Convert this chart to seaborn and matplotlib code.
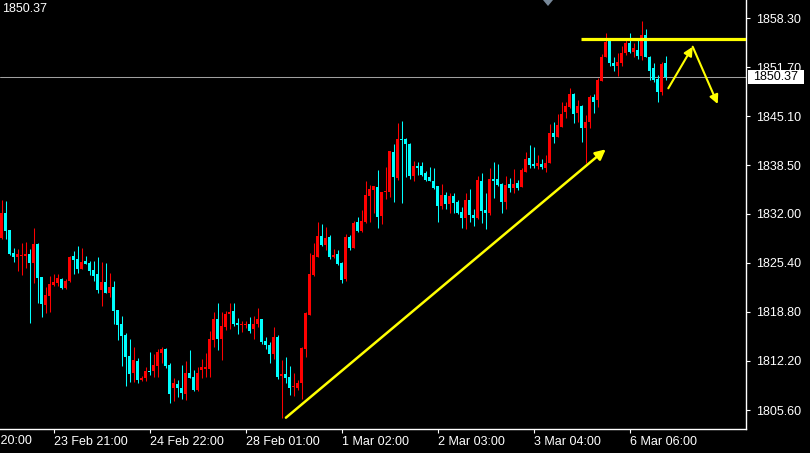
import numpy as np
import matplotlib
matplotlib.use("Agg")
import matplotlib.pyplot as plt
from matplotlib.patches import Rectangle, Polygon
import seaborn as sns

# hourly OHLC (bar 0 = left edge)
opens = [1828.78, 1832.14, 1829.81, 1826.72, 1826.18, 1826.36, 1826.36, 1826.58, 1825.42, 1827.93,
         1823.45, 1819.73, 1820.98, 1822.42, 1822.73, 1823.22, 1822.06, 1822.96, 1826.32, 1825.91,
         1824.57, 1825.64, 1825.37, 1824.43, 1823.90, 1821.75, 1822.82, 1821.39, 1822.15, 1819.06,
         1817.18, 1815.70, 1812.88, 1810.59, 1812.20, 1809.70, 1809.92, 1810.86, 1810.86, 1811.53,
         1813.28, 1813.82, 1811.67, 1808.54, 1809.11, 1808.53, 1807.81, 1810.59, 1810.05, 1808.35,
         1810.99, 1811.13, 1811.13, 1815.03, 1817.85, 1815.16, 1816.82, 1818.52, 1818.92, 1817.36,
         1817.09, 1817.00, 1817.22, 1816.55, 1817.22, 1817.85, 1814.89, 1814.35, 1813.14, 1815.43,
         1810.19, 1810.46, 1810.10, 1808.75, 1808.62, 1809.20, 1813.82, 1818.38, 1823.76, 1826.22,
         1829.00, 1827.79, 1828.91, 1826.13, 1826.58, 1825.42, 1823.18, 1828.91, 1827.34, 1830.93,
         1829.67, 1830.93, 1834.38, 1835.18, 1835.63, 1831.69, 1834.87, 1834.96, 1840.29, 1836.75,
         1842.04, 1842.04, 1841.36, 1837.11, 1838.45, 1838.45, 1837.42, 1836.97, 1836.44, 1835.72,
         1833.03, 1834.51, 1833.30, 1834.38, 1833.61, 1832.22, 1831.46, 1833.84, 1831.82, 1831.46,
         1836.39, 1832.50, 1832.05, 1836.66, 1836.66, 1835.99, 1833.62, 1835.99, 1835.50, 1836.08,
         1835.54, 1837.65, 1839.44, 1838.68, 1838.41, 1838.68, 1838.19, 1838.77, 1842.89, 1842.35,
         1843.70, 1845.71, 1846.38, 1848.04, 1845.49, 1846.47, 1843.47, 1844.37, 1847.64, 1847.28,
         1849.83, 1853.10, 1855.25, 1852.21, 1851.89, 1852.21, 1853.55, 1854.90, 1853.78, 1854.00,
         1853.24, 1856.02, 1853.10, 1851.54, 1850.06, 1848.40, 1852.21]
highs = [1833.84, 1833.71, 1829.81, 1827.35, 1827.26, 1828.02, 1828.20, 1827.21, 1830.03, 1828.11,
         1823.45, 1822.19, 1823.58, 1823.85, 1823.85, 1823.36, 1823.27, 1826.36, 1826.99, 1827.66,
         1827.35, 1826.32, 1825.60, 1825.64, 1826.14, 1825.55, 1825.37, 1824.03, 1822.96, 1819.06,
         1818.25, 1815.92, 1815.12, 1814.09, 1812.61, 1810.20, 1811.35, 1813.37, 1813.19, 1813.77,
         1814.13, 1813.99, 1811.98, 1809.92, 1809.65, 1811.67, 1812.20, 1813.68, 1810.95, 1811.35,
         1812.47, 1813.23, 1816.24, 1818.79, 1819.95, 1818.83, 1818.92, 1819.95, 1819.95, 1818.03,
         1817.62, 1817.62, 1818.12, 1818.25, 1819.33, 1817.85, 1815.47, 1814.80, 1816.77, 1815.70,
         1812.34, 1812.70, 1811.53, 1810.55, 1809.65, 1814.13, 1818.79, 1826.67, 1828.10, 1830.88,
         1830.61, 1830.25, 1829.13, 1827.21, 1827.12, 1825.55, 1829.27, 1829.13, 1831.02, 1831.55,
         1832.49, 1836.39, 1835.85, 1835.76, 1837.87, 1834.96, 1838.32, 1840.42, 1841.36, 1844.19,
         1844.46, 1842.22, 1841.45, 1839.13, 1838.99, 1838.90, 1837.78, 1838.32, 1838.09, 1835.72,
         1835.99, 1834.96, 1834.73, 1834.73, 1833.84, 1832.94, 1834.73, 1835.32, 1832.63, 1837.06,
         1837.51, 1834.74, 1838.10, 1838.99, 1838.68, 1836.17, 1837.07, 1836.75, 1838.01, 1836.53,
         1838.10, 1840.34, 1841.23, 1841.01, 1839.89, 1839.31, 1839.89, 1844.05, 1844.28, 1845.40,
         1847.06, 1847.06, 1848.85, 1848.27, 1847.28, 1846.61, 1845.26, 1847.95, 1848.04, 1850.19,
         1853.46, 1856.24, 1855.43, 1853.10, 1853.55, 1854.54, 1855.43, 1856.33, 1854.99, 1855.34,
         1857.90, 1856.78, 1853.19, 1852.30, 1850.64, 1852.43, 1853.19]
lows = [1828.56, 1828.65, 1826.45, 1825.55, 1824.34, 1823.76, 1824.75, 1817.36, 1822.64, 1820.04,
        1818.16, 1818.70, 1818.83, 1822.28, 1822.28, 1821.88, 1821.88, 1822.82, 1823.90, 1824.08,
        1824.57, 1825.24, 1823.76, 1823.00, 1821.39, 1819.60, 1821.34, 1820.85, 1817.18, 1815.03,
        1811.58, 1808.89, 1809.43, 1809.43, 1809.29, 1809.50, 1809.51, 1810.32, 1810.10, 1810.10,
        1811.89, 1811.31, 1806.60, 1806.83, 1807.37, 1807.05, 1806.96, 1809.92, 1808.17, 1808.17,
        1809.96, 1810.01, 1810.10, 1814.13, 1813.68, 1812.34, 1816.37, 1816.50, 1816.95, 1815.83,
        1816.15, 1816.59, 1816.01, 1815.12, 1816.82, 1814.49, 1813.77, 1811.98, 1812.52, 1809.78,
        1804.54, 1809.20, 1807.63, 1807.50, 1808.31, 1807.14, 1812.70, 1818.38, 1823.62, 1826.13,
        1827.66, 1827.12, 1825.86, 1826.00, 1825.10, 1822.73, 1822.95, 1827.12, 1827.34, 1829.54,
        1829.58, 1830.79, 1830.93, 1832.14, 1830.12, 1830.61, 1834.02, 1834.20, 1833.61, 1836.53,
        1833.39, 1836.97, 1836.62, 1836.44, 1837.20, 1837.06, 1836.44, 1836.44, 1835.32, 1830.93,
        1832.67, 1832.67, 1832.05, 1832.14, 1831.91, 1830.12, 1829.90, 1830.93, 1830.34, 1831.33,
        1830.70, 1829.94, 1831.82, 1834.06, 1835.72, 1832.14, 1832.68, 1834.96, 1834.83, 1835.18,
        1835.54, 1837.65, 1838.10, 1838.19, 1837.96, 1837.96, 1837.65, 1838.77, 1841.55, 1842.35,
        1843.70, 1844.82, 1846.16, 1844.14, 1844.37, 1841.68, 1838.77, 1843.56, 1845.49, 1846.29,
        1849.83, 1853.01, 1851.89, 1851.18, 1850.51, 1851.85, 1853.33, 1853.64, 1853.10, 1852.79,
        1852.66, 1853.01, 1849.97, 1849.74, 1847.06, 1847.95, 1849.97]
closes = [1832.14, 1829.72, 1826.58, 1826.18, 1826.58, 1826.50, 1826.63, 1825.42, 1827.93, 1823.40,
          1819.91, 1821.07, 1822.51, 1822.82, 1823.40, 1822.06, 1822.96, 1826.18, 1825.82, 1824.57,
          1825.51, 1825.24, 1824.34, 1823.67, 1821.75, 1822.82, 1821.34, 1822.15, 1818.92, 1817.09,
          1815.61, 1812.79, 1810.46, 1812.34, 1809.65, 1809.85, 1810.86, 1810.73, 1811.67, 1813.46,
          1813.82, 1811.53, 1807.81, 1809.25, 1808.57, 1807.86, 1810.59, 1809.92, 1808.26, 1810.59,
          1811.35, 1811.35, 1815.16, 1817.85, 1815.16, 1816.95, 1818.52, 1818.75, 1817.22, 1817.09,
          1817.22, 1817.22, 1816.28, 1817.22, 1817.85, 1814.76, 1814.35, 1813.14, 1815.43, 1810.10,
          1810.46, 1809.87, 1808.62, 1808.84, 1809.20, 1813.91, 1818.61, 1823.89, 1826.45, 1829.00,
          1827.79, 1828.78, 1826.13, 1826.45, 1825.24, 1823.09, 1828.91, 1827.34, 1830.79, 1829.67,
          1831.06, 1834.51, 1835.32, 1835.76, 1831.60, 1834.96, 1835.09, 1840.42, 1836.97, 1842.04,
          1841.90, 1841.32, 1837.11, 1838.41, 1838.18, 1837.20, 1836.53, 1836.44, 1835.41, 1833.03,
          1834.51, 1833.30, 1834.38, 1833.48, 1832.14, 1831.46, 1833.84, 1831.82, 1831.46, 1836.53,
          1832.36, 1832.14, 1836.66, 1836.39, 1835.86, 1833.62, 1835.86, 1835.50, 1835.99, 1835.50,
          1837.87, 1839.35, 1838.54, 1838.41, 1838.86, 1838.23, 1838.86, 1842.89, 1842.35, 1843.92,
          1845.40, 1846.47, 1848.04, 1845.35, 1846.47, 1843.56, 1844.37, 1847.64, 1847.06, 1849.97,
          1853.10, 1855.12, 1852.21, 1851.89, 1852.43, 1853.55, 1854.90, 1853.78, 1854.22, 1853.24,
          1856.02, 1853.10, 1851.18, 1849.97, 1848.40, 1852.12, 1850.33]

price_ticks = [1858.30, 1851.70, 1845.10, 1838.50, 1832.00, 1825.40, 1818.80, 1812.20, 1805.60]
date_ticks = [13, 37, 61, 85, 109, 133, 157]
date_labels = ["23 Feb 21:00", "24 Feb 22:00", "28 Feb 01:00", "1 Mar 02:00",
               "2 Mar 03:00", "3 Mar 04:00", "6 Mar 06:00"]
last_price = 1850.37

# hand-drawn yellow objects (bar index, price)
resistance_level = 1855.44
resistance_start = 144.9
trend_start = (71.1, 1804.58)
trend_end = (151.05, 1840.65)
zigzag_x = [166.7, 172.8, 179.05]
zigzag_y = [1848.85, 1854.44, 1846.74]

sns.set_theme(style="ticks", rc={
    "axes.facecolor": "black",
    "figure.facecolor": "black",
    "axes.edgecolor": "white",
    "xtick.color": "white",
    "ytick.color": "white",
})
plt.rcParams["font.family"] = ["Liberation Sans", "DejaVu Sans"]
plt.rcParams["font.size"] = 9

UP = "#ff0000"
DOWN = "#00ffff"
YEL = "#ffff00"

fig = plt.figure(figsize=(8.1, 4.53), dpi=100)
ax = fig.add_axes([0, 24 / 453, 746 / 810, 429 / 453])

x = np.arange(len(opens))
o = np.array(opens)
c = np.array(closes)
colors = [UP if cc >= oo else DOWN for oo, cc in zip(o, c)]

ax.vlines(x, lows, highs, colors=colors, linewidth=0.75, zorder=2)
body_low = np.minimum(o, c)
body_h = np.maximum(np.abs(c - o), 0.14)
ax.bar(x, body_h, bottom=body_low, width=0.75, color=colors, linewidth=0, zorder=3)

# current price line
ax.axhline(last_price, color="#a0a0a0", linewidth=0.75, zorder=1)

# yellow drawings
ax.plot([resistance_start, 190], [resistance_level, resistance_level], color=YEL,
        linewidth=2.3, solid_capstyle="butt", zorder=4)
ax.annotate("", xy=trend_end, xytext=trend_start,
            arrowprops=dict(arrowstyle="-|>", color=YEL, lw=1.8, mutation_scale=15,
                            shrinkA=0, shrinkB=0), zorder=4)
ax.annotate("", xy=(zigzag_x[1], zigzag_y[1]), xytext=(zigzag_x[0], zigzag_y[0]),
            arrowprops=dict(arrowstyle="-|>", color=YEL, lw=1.5, mutation_scale=13,
                            shrinkA=0, shrinkB=0), zorder=4)
ax.annotate("", xy=(zigzag_x[2], zigzag_y[2]), xytext=(zigzag_x[1], zigzag_y[1]),
            arrowprops=dict(arrowstyle="-|>", color=YEL, lw=1.5, mutation_scale=13,
                            shrinkA=0, shrinkB=0), zorder=4)

ax.set_xlim(-0.375, 186.125)
ax.set_ylim(1803.06, 1860.72)

for side in ["left", "top"]:
    ax.spines[side].set_visible(False)
ax.spines["right"].set_linewidth(1)
ax.spines["bottom"].set_linewidth(1)

ax.yaxis.tick_right()
ax.set_yticks(price_ticks)
ax.set_yticklabels([f"{p:.2f}" for p in price_ticks])
ax.set_xticks(date_ticks)
ax.set_xticklabels(date_labels, ha="left")
ax.tick_params(axis="both", direction="out", length=3, width=0.8, labelsize=9,
               labelcolor="white")
ax.tick_params(axis="y", pad=4)
ax.tick_params(axis="x", pad=2)

# partly hidden first date label
ax.annotate("22 Feb 20:00", xy=(-11, 0), xycoords=("data", "axes fraction"),
            xytext=(0, -4.2), textcoords="offset points", ha="left", va="top",
            color="white", fontsize=9, annotation_clip=False)

# price box on the right axis
fig.patches.append(Rectangle((748 / 810, (453 - 84) / 453), 56 / 810, 14 / 453,
                             transform=fig.transFigure, facecolor="white",
                             edgecolor="none", zorder=5))
fig.text(776 / 810, (453 - 77) / 453, f"{last_price:.2f}", color="black",
         fontsize=9, ha="center", va="center", zorder=6)

# top-left price and shift marker
fig.text(2 / 810, 1 - 9 / 453, f"{last_price:.2f}", color="white", fontsize=9,
         ha="left", va="center")
fig.patches.append(Polygon([(543 / 810, 1), (553 / 810, 1), (548 / 810, 1 - 6 / 453)],
                           closed=True, transform=fig.transFigure,
                           facecolor="#778899", edgecolor="none"))

fig.savefig("out.png", dpi=100, facecolor="black")
